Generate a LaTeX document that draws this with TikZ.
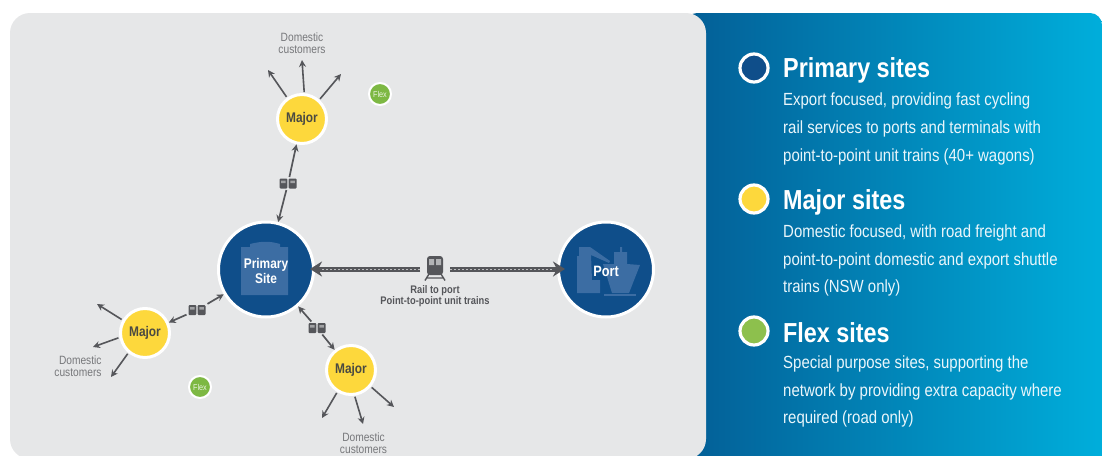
\documentclass[tikz,border=0pt]{standalone}
\usepackage{fontspec}
\setmainfont[FakeStretch=0.85]{Liberation Sans}
\usetikzlibrary{arrows.meta}
\definecolor{panelgray}{HTML}{E6E7E8}
\definecolor{navy}{HTML}{0F4E8A}
\definecolor{iconblue}{HTML}{3C6DA3}
\definecolor{sunny}{HTML}{FDD83C}
\definecolor{leaf}{HTML}{7DB843}
\definecolor{legendleaf}{HTML}{8DC04D}
\definecolor{arrowgray}{HTML}{55565A}
\definecolor{labelgray}{HTML}{77787B}
\definecolor{darktext}{HTML}{4A4A42}
\definecolor{bodywhite}{HTML}{EAF6FB}
\definecolor{bandleft}{HTML}{035E96}
\definecolor{bandright}{HTML}{00AEDB}
\tikzset{
  site/.style={circle,draw=white,inner sep=0pt,align=center},
  primarysite/.style={site,fill=navy,line width=3pt,minimum size=95pt},
  majorsite/.style={site,fill=sunny,line width=3pt,minimum size=49pt,text=darktext,font=\bfseries\fontsize{14}{15}\selectfont},
  flexsite/.style={site,fill=leaf,line width=2pt,minimum size=22pt,text=white!85!leaf,font=\fontsize{8.5}{9}\selectfont},
  legenddot/.style={site,line width=3.2pt,minimum size=28pt},
  customerlink/.style={draw=arrowgray,line width=1.6pt,-{Stealth[length=7pt,width=7pt]}},
  raillink/.style={draw=arrowgray,line width=1.7pt,-{Stealth[length=7pt,width=7pt]}},
  customerlabel/.style={text=labelgray,inner sep=0pt,font=\fontsize{12}{12.2}\selectfont},
  railtrack/.style={draw=arrowgray,line width=5pt,-{Stealth[length=12pt,width=15pt]}},
  trackhatch/.style={draw=white!60!arrowgray,line width=.8pt,dash pattern=on 2pt off 2pt},
  head/.style={anchor=base west,inner sep=0pt,text=white,font=\bfseries\fontsize{27.5}{30}\selectfont},
  bodytext/.style={anchor=north west,inner sep=0pt,text=bodywhite,align=left,font=\fontsize{17.6}{27.6}\selectfont},
  trainpair/.style={minimum width=18pt,minimum height=10pt,inner sep=0pt,outer sep=1.5pt,path picture={
    \begin{scope}[shift={(path picture bounding box.center)}]
      \fill[arrowgray,rounded corners=1pt] (-8.5,-5) rectangle (-.7,5);
      \fill[arrowgray,rounded corners=1pt] (.7,-5) rectangle (8.5,5);
      \fill[white!45!arrowgray] (-6.8,-3) rectangle (-2.4,-.5) (2.4,-3) rectangle (6.8,-.5);
    \end{scope}}},
  bigtrain/.style={minimum width=22pt,minimum height=26pt,inner sep=0pt,outer sep=4pt,path picture={
    \begin{scope}[shift={(path picture bounding box.center)}]
      \fill[arrowgray,rounded corners=3pt] (-8,-12) rectangle (8,7);
      \fill[white!55!arrowgray] (-6,-9) rectangle (-1,-3) (1,-9) rectangle (6,-3);
      \draw[arrowgray,line width=1.4pt] (-6,6) -- (-10,12.5) (6,6) -- (10,12.5) (-9,10) -- (9,10);
    \end{scope}}},
}
\begin{document}
\begin{tikzpicture}[x=1pt,y=-1pt]
\useasboundingbox (0,0) rectangle (1102,455);
% panels
\shade[left color=bandleft,right color=bandright,rounded corners=12pt] (685,13) rectangle (1102,480);
\fill[panelgray,rounded corners=20pt] (10,13) rectangle (706,459);
% nodes
\node[primarysite] (primary) at (266,269.5) {};
\fill[iconblue] (241,295) -- (241,247) -- (250,247) -- (250,244) .. controls (262,241) and (270,241) .. (280,244) -- (280,247) -- (288,247) -- (288,295) -- cycle;
\node[site,draw=none,text=white,font=\bfseries\fontsize{14}{14.5}\selectfont] (primarytext) at (266,271) {Primary\\Site};
\node[primarysite] (port) at (606,269.5) {};
\fill[iconblue] (577,293) -- (577,256) -- (579,256) -- (579,247) -- (590,247) -- (610,261) -- (609,263) -- (591,255) -- (592,280) -- (600,280) -- (600,293) -- cycle;
\fill[iconblue] (603,264) -- (614,264) -- (614,252) -- (620,252) -- (620,247) -- (622,247) -- (622,252) -- (627,252) -- (627,264) -- (640,265) -- (629,293) -- (612,293) -- cycle;
\fill[iconblue] (604,294) rectangle (636,296);
\node[site,draw=none,text=white,font=\bfseries\fontsize{15}{16}\selectfont] (porttext) at (606,271) {Port};
\node[majorsite] (majortop) at (302,119) {Major};
\node[majorsite] (majorleft) at (145,333) {Major};
\node[majorsite] (majorlow) at (351,370) {Major};
\node[flexsite] (flextop) at (380,94) {Flex};
\node[flexsite] (flexlow) at (200,387) {Flex};
% rail to port
\node[bigtrain] (train) at (435,268) {};
\draw[railtrack,shorten >=-5pt] (train.west) ++(0,1) coordinate (trainw) (trainw) -- (primary.east |- trainw);
\draw[railtrack,shorten >=-8pt] (train.east) ++(0,1) coordinate (traine) (traine) -- (port.west |- traine);
\draw[trackhatch] (trainw) -- ([xshift=7pt]primary.east |- trainw);
\draw[trackhatch] (traine) -- ([xshift=-4pt]port.west |- traine);
\node[text=arrowgray,align=center,inner sep=0pt,font=\bfseries\fontsize{11}{11}\selectfont] (raillabel) at (435,296.5) {Rail to port\\Point-to-point unit trains};
% trains between sites
\node[trainpair] (pairtop) at (288,183.5) {};
\node[trainpair] (pairleft) at (197,310) {};
\node[trainpair] (pairlow) at (317,328) {};
\draw[raillink] (pairtop) -- (primary);
\draw[raillink] (pairtop) -- (majortop);
\draw[raillink] (pairleft) -- (primary);
\draw[raillink] (pairleft) -- (majorleft);
\draw[raillink] (pairlow) -- (primary);
\draw[raillink] (pairlow) -- (majorlow);
% customers
\coordinate (ct1) at (268,70);
\coordinate (ct2) at (302,60);
\coordinate (ct3) at (341,74);
\coordinate (cl1) at (97,304);
\coordinate (cl2) at (93,347);
\coordinate (cl3) at (111,377);
\coordinate (cb1) at (322,418);
\coordinate (cb2) at (363,424);
\coordinate (cb3) at (394,407);
\foreach \s/\e in {majortop.125/ct1,majortop.85/ct2,majortop.48/ct3,majorleft.150/cl1,majorleft.190/cl2,majorleft.230/cl3,majorlow.238/cb1,majorlow.278/cb2,majorlow.-40/cb3}
  \draw[customerlink,shorten <=1pt] (\s) -- (\e);
\node[customerlabel,align=center] (labeltop) at (302,43) {Domestic\\customers};
\node[customerlabel,align=right] (labelleft) at (78,366) {Domestic\\customers};
\node[customerlabel,align=center] (labellow) at (363.5,443) {Domestic\\customers};
% legend
\node[legenddot,fill=navy] (legprimary) at (754,68) {};
\node[legenddot,fill=sunny] (legmajor) at (754,199) {};
\node[legenddot,fill=legendleaf] (legflex) at (754,331) {};
\node[head] (headprimary) at (783,77) {Primary sites};
\node[head] (headmajor) at (783,209) {Major sites};
\node[head] (headflex) at (783,342) {Flex sites};
\node[bodytext] (bodyprimary) at (783,93) {Export focused, providing fast cycling\\rail services to ports and terminals with\\point-to-point unit trains (40+ wagons)};
\node[bodytext] (bodymajor) at (783,224.5) {Domestic focused, with road freight and\\point-to-point domestic and export shuttle\\trains (NSW only)};
\node[bodytext] (bodyflex) at (783,355.5) {Special purpose sites, supporting the\\network by providing extra capacity where\\required (road only)};
\end{tikzpicture}
\end{document}
